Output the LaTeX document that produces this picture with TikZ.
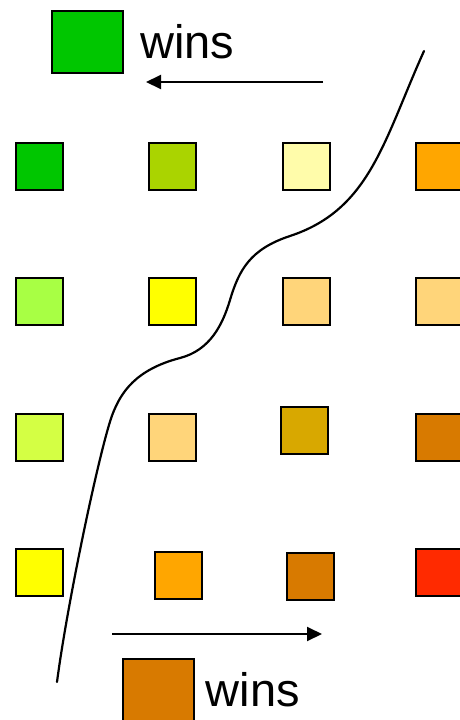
\documentclass[tikz,border=0pt]{standalone}
\usepackage{fontspec}
\setmainfont{Liberation Sans}
\usetikzlibrary{arrows.meta,positioning}
\definecolor{cGreen}{RGB}{0,198,0}
\definecolor{cLime}{RGB}{170,212,0}
\definecolor{cPale}{RGB}{255,252,170}
\definecolor{cOrange}{RGB}{255,166,0}
\definecolor{cLeaf}{RGB}{168,255,68}
\definecolor{cYellow}{RGB}{255,255,0}
\definecolor{cPeach}{RGB}{255,213,122}
\definecolor{cChart}{RGB}{212,255,68}
\definecolor{cOchre}{RGB}{216,168,0}
\definecolor{cBrown}{RGB}{216,122,0}
\definecolor{cRed}{RGB}{255,42,0}
\tikzset{pin/.style={line width=2pt, -{Triangle[length=15pt, width=14pt]}},
  sq/.style={draw, line width=2pt, inner sep=0pt, minimum size=47pt},
  legend/.style={draw, line width=2pt, inner sep=0pt, minimum width=71pt, minimum height=62pt},
  wins/.style={inner sep=0pt, font=\fontsize{47}{50}\selectfont}}

\begin{document}
\begin{tikzpicture}[x=1pt, y=-1pt]
  \useasboundingbox (0,0) rectangle (460,720);
  % legend on top
  \node[legend, fill=cGreen] (legG) at (87.5,42) {};
  \node[wins, right=16pt of legG] (winsG) {wins};
  % grid of squares
  \node[sq, fill=cGreen] (s11) at (39.5,166) {};
  \node[sq, fill=cLime] (s12) at (172.5,166) {};
  \node[sq, fill=cPale] (s13) at (306.5,166) {};
  \node[sq, fill=cOrange] (s14) at (439.5,166) {};
  \node[sq, fill=cLeaf] (s21) at (39.5,301) {};
  \node[sq, fill=cYellow] (s22) at (172.5,301) {};
  \node[sq, fill=cPeach] (s23) at (306.5,301) {};
  \node[sq, fill=cPeach] (s24) at (439.5,301) {};
  \node[sq, fill=cChart] (s31) at (39.5,437) {};
  \node[sq, fill=cPeach] (s32) at (172.5,437) {};
  \node[sq, fill=cOchre] (s33) at (304,430.5) {};
  \node[sq, fill=cBrown] (s34) at (439.5,437) {};
  \node[sq, fill=cYellow] (s41) at (39.5,572.5) {};
  \node[sq, fill=cOrange] (s42) at (178.5,575) {};
  \node[sq, fill=cBrown] (s43) at (310.5,576.5) {};
  \node[sq, fill=cRed] (s44) at (439.5,572.5) {};
  % legend at the bottom
  \node[legend, fill=cBrown] (legB) at (158,689.5) {};
  \node[wins, right=11pt of legB] (winsB) {wins};
  % arrows
  \coordinate (tA) at (323,82);
  \coordinate (tB) at (146,82);
  \coordinate (bA) at (112,634);
  \coordinate (bB) at (322,634);
  \draw[pin] (tA) -- (tB);
  \draw[pin] (bA) -- (bB);
  % dividing curve
  \draw[line width=2.2pt, line cap=round] (424,51)
    .. controls (383.5,141) and (370,209.6) .. (290,236)
    .. controls (250,249.2) and (239,270) .. (230,300)
    .. controls (222.5,325) and (210,350.2) .. (180,358)
    .. controls (135,369.7) and (121,393) .. (113,413)
    .. controls (101,443) and (67.4,602) .. (57,682);
\end{tikzpicture}
\end{document}
